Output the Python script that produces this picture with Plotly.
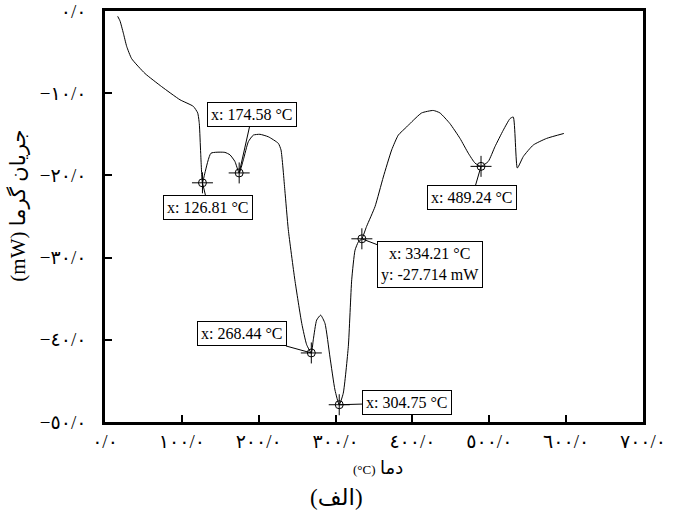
"""DSC curve with labelled peaks"""
import plotly.graph_objects as go

# curve: temperature (°C) and heat flow (mW)
temp = [16.5, 19.5, 23.9, 28.2, 34.7, 52, 73.7, 97.6, 114.9, 120.6, 122.7, 124.5,
        126.81, 130, 137.9, 156, 162.6, 169, 174.58, 180, 186.5, 193, 201.6, 212.5,
        225.5, 229, 234, 238.5, 247, 256, 262.4, 268.44, 271, 275.4, 280.6, 286.2,
        292.7, 299.2, 304.75, 310, 316.6, 321, 325.3, 329.6, 334.21, 340.4, 351.3,
        362.1, 373, 381.6, 392.5, 401.1, 412, 427.1, 435.8, 448.8, 461.9, 472.7,
        481.4, 489.24, 498.7, 507.4, 518.2, 526.9, 531.2, 536.5, 544.3, 557.3,
        574.6, 597]
heat = [-0.65, -1.2, -2.7, -4.3, -5.8, -7.6, -9.2, -10.8, -11.6, -12.4, -13.7, -17.3,
        -20.9, -19.7, -17.3, -17.2, -17.5, -18.3, -19.7, -18.1, -15.9, -15.1, -15.0, -15.3,
        -16.1, -16.9, -21.8, -26.6, -32.7, -38.0, -40.6, -41.6, -40.0, -37.6, -37.0, -38.0,
        -42.1, -46.1, -47.9, -46.5, -40.8, -32.7, -29.1, -28.1, -27.714, -26.2, -23.8,
        -20.2, -16.9, -15.1, -14.1, -13.3, -12.4, -12.1, -12.4, -13.7, -15.5, -17.3,
        -18.5, -18.9, -18.3, -16.5, -14.5, -13.1, -12.9, -19.1, -17.7, -16.3,
        -15.5, -14.9]

# marked points and their label text
peak_x = [126.81, 174.58, 268.44, 304.75, 334.21, 489.24]
peak_y = [-20.9, -19.7, -41.6, -47.9, -27.714, -18.9]
peak_text = ["x: 126.81 °C", "x: 174.58 °C", "x: 268.44 °C", "x: 304.75 °C",
             "x: 334.21 °C<br>y: -27.714 mW", "x: 489.24 °C"]
# label box offset from the point, pixels
peak_ax = [6, 13, -69, 68, 68, -9]
peak_ay = [25, -58, -19, -2, 26, 31]

x_ticks = [0, 100, 200, 300, 400, 500, 600, 700]
x_ticktext = ["٠/٠", "١٠٠/٠", "٢٠٠/٠", "٣٠٠/٠", "٤٠٠/٠", "٥٠٠/٠", "٦٠٠/٠", "٧٠٠/٠"]
y_ticks = [0, -10, -20, -30, -40, -50]
y_ticktext = ["٠/٠", "−١٠/٠", "−٢٠/٠", "−٣٠/٠", "−٤٠/٠", "−٥٠/٠"]

serif = "Liberation Serif, DejaVu Sans, serif"

fig = go.Figure()
fig.add_trace(go.Scatter(x=temp, y=heat, mode="lines",
                         line=dict(color="black", width=1, shape="spline", smoothing=0.5)))
# crosshair + open circle markers
fig.add_trace(go.Scatter(x=peak_x, y=peak_y, mode="markers",
                         marker=dict(symbol="cross-thin-open", size=15, color="black",
                                     line=dict(color="black", width=1))))
fig.add_trace(go.Scatter(x=peak_x, y=peak_y, mode="markers",
                         marker=dict(symbol="circle-open", size=8, color="black",
                                     line=dict(color="black", width=1))))

for x, y, t, ax, ay in zip(peak_x, peak_y, peak_text, peak_ax, peak_ay):
    fig.add_annotation(x=x, y=y, text=t, ax=ax, ay=ay, showarrow=True, arrowhead=0,
                       arrowwidth=1, arrowcolor="black", standoff=0,
                       bordercolor="black", borderwidth=1, borderpad=3, bgcolor="white",
                       font=dict(family=serif, size=16, color="black"))

# axis titles and caption
fig.add_annotation(text="<span style='font-size:13px'>(°C)</span> دما", xref="paper", yref="paper",
                   x=0.507, y=-0.112, xanchor="center", yanchor="middle",
                   showarrow=False, font=dict(family=serif, size=18))
fig.add_annotation(text="(mW) جریان گرما", xref="paper", yref="paper", textangle=-90,
                   x=-0.162, y=0.526, xanchor="center", yanchor="middle",
                   showarrow=False, font=dict(family=serif, size=21))
fig.add_annotation(text="(الف)", xref="paper", yref="paper",
                   x=0.431, y=-0.183, xanchor="center", yanchor="middle",
                   showarrow=False, font=dict(family=serif, size=23))

axis_style = dict(showline=True, linewidth=2.5, linecolor="black", mirror=True,
                  ticks="inside", ticklen=7, tickwidth=1.5, tickcolor="black",
                  showgrid=False, zeroline=False, automargin=False,
                  tickfont=dict(family=serif, size=19, color="black"))
fig.update_xaxes(range=[0, 700], tickvals=x_ticks, ticktext=x_ticktext,
                 ticklabelstandoff=0, **axis_style)
fig.update_yaxes(range=[-50, 0], tickvals=y_ticks, ticktext=y_ticktext,
                 ticklabelstandoff=12, **axis_style)

fig.update_layout(width=684, height=516, showlegend=False,
                  margin=dict(l=105, r=41, t=11, b=94),
                  font=dict(family=serif, color="black"),
                  plot_bgcolor="white", paper_bgcolor="white")
# drop the page's default body margin so the figure sits at the window corner
fig.write_html("out.html", config={"displayModeBar": False},
               post_script="document.body.style.margin='0';")
